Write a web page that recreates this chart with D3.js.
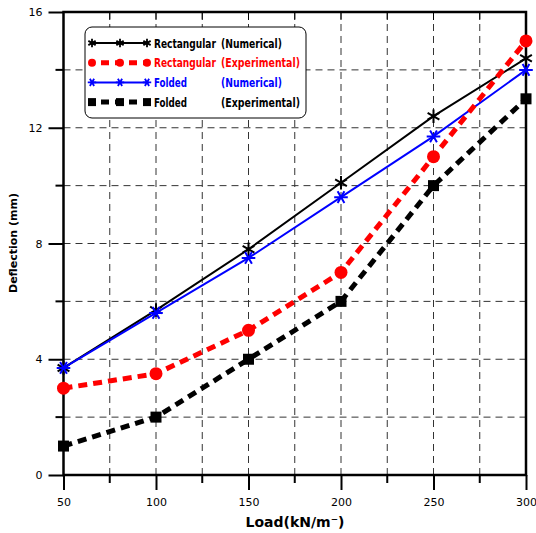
<!DOCTYPE html>
<html><head><meta charset="utf-8">
<script src="https://cdn.jsdelivr.net/npm/d3@7"></script>
<style>body{margin:0;background:#fff}</style>
</head><body>
<svg id="c" width="536" height="533"></svg>
<script>
const loads = [50, 100, 150, 200, 250, 300];
const rectNum = [3.7, 5.7, 7.8, 10.1, 12.4, 14.4];
const rectExp = [3, 3.5, 5, 7, 11, 15];
const foldNum = [3.7, 5.6, 7.5, 9.6, 11.7, 14.0];
const foldExp = [1, 2, 4, 6, 10, 13];
const xTicks = [50, 100, 150, 200, 250, 300];
const yTicks = [0, 4, 8, 12, 16];
const xLabel = "Load(kN/m\u207B)";
const yLabel = "Deflection (mm)";
const seriesNames = ["Rectangular", "Rectangular", "Folded", "Folded"];
const seriesTypes = ["(Numerical)", "(Experimental)", "(Numerical)", "(Experimental)"];

const svg = d3.select("#c");
const x = d3.scaleLinear().domain([50, 300]).range([63.5, 526]);
const y = d3.scaleLinear().domain([0, 16]).range([475, 12]);
const font = "'DejaVu Sans', Verdana, sans-serif";

// grid
const g = svg.append("g");
g.selectAll(".vg").data(d3.range(75, 300, 25)).enter().append("line")
  .attr("x1", d => x(d)).attr("x2", d => x(d)).attr("y1", y(0)).attr("y2", y(16))
  .attr("stroke", "#333").attr("stroke-width", 1).attr("stroke-dasharray", "7,5");
g.selectAll(".hg").data(d3.range(2, 16, 2)).enter().append("line")
  .attr("x1", x(50)).attr("x2", x(300)).attr("y1", d => y(d)).attr("y2", d => y(d))
  .attr("stroke", "#333").attr("stroke-width", 1).attr("stroke-dasharray", "7,5");

// axes
const xAxis = d3.axisBottom(x).tickValues(xTicks).tickSize(15).tickFormat(d3.format("d"));
const xa = svg.append("g").attr("transform", `translate(0,${y(0)})`).call(xAxis);
xa.select(".domain").remove();
xa.selectAll(".tick line").attr("stroke-width", 2);
xa.selectAll("text").attr("font-family", font).attr("font-size", 11).attr("dy", "1.2em");
svg.append("g").selectAll("line").data(d3.range(75, 300, 50)).enter().append("line")
  .attr("x1", d => x(d)).attr("x2", d => x(d)).attr("y1", y(0)).attr("y2", y(0) + 8)
  .attr("stroke", "#000").attr("stroke-width", 2);
// top ticks inward
svg.append("g").selectAll("line").data(d3.range(75, 300, 25)).enter().append("line")
  .attr("x1", d => x(d)).attr("x2", d => x(d)).attr("y1", y(16)).attr("y2", y(16) + 8)
  .attr("stroke", "#000").attr("stroke-width", 1);

const yAxis = d3.axisLeft(y).tickValues(yTicks).tickSize(15).tickPadding(6);
const ya = svg.append("g").attr("transform", `translate(${x(50)},0)`).call(yAxis);
ya.select(".domain").remove();
ya.selectAll(".tick line").attr("stroke-width", 2);
ya.selectAll("text").attr("font-family", font).attr("font-size", 11);
svg.append("g").selectAll("line").data(d3.range(2, 16, 4)).enter().append("line")
  .attr("x1", x(50) - 8).attr("x2", x(50)).attr("y1", d => y(d)).attr("y2", d => y(d))
  .attr("stroke", "#000").attr("stroke-width", 2);

// frame
svg.append("rect").attr("x", x(50)).attr("y", y(16)).attr("width", x(300) - x(50)).attr("height", y(0) - y(16))
  .attr("fill", "none").attr("stroke", "#000").attr("stroke-width", 2.5);

// series
const line = d3.line().x((d, i) => x(loads[i])).y(d => y(d));
function drawSeries(data, color, dash, width, marker) {
  svg.append("path").datum(data).attr("d", line).attr("fill", "none")
    .attr("stroke", color).attr("stroke-width", width).attr("stroke-dasharray", dash);
  const m = svg.append("g");
  data.forEach((v, i) => {
    const mg = m.append("g").attr("transform", `translate(${x(loads[i])},${y(v)})`);
    marker(mg, color);
  });
}
const mkStar = (rot) => (gg, col) => gg.append("path").attr("d", d3.symbol(d3.symbolAsterisk, 130)())
  .attr("transform", `rotate(${rot})`).attr("fill", "none").attr("stroke", col).attr("stroke-width", 2);
const mkCircle = (gg, col) => gg.append("circle").attr("r", 6.5).attr("fill", col);
const mkSquare = (gg, col) => gg.append("rect").attr("x", -5.5).attr("y", -5.5).attr("width", 11).attr("height", 11).attr("fill", col);

drawSeries(rectNum, "#000", null, 2, mkStar(0));
drawSeries(foldNum, "#0000ff", null, 2, mkStar(90));
drawSeries(rectExp, "#ff0000", "9,6", 5, mkCircle);
drawSeries(foldExp, "#000", "9,6", 5, mkSquare);

// legend
const lg = svg.append("g");
lg.append("rect").attr("x", 85).attr("y", 27).attr("width", 221).attr("height", 91).attr("rx", 7)
  .attr("fill", "#fff").attr("stroke", "#000").attr("stroke-width", 1);
const legItems = [
  {c: "#000", dash: null, w: 2, m: "star", tc: "#000"},
  {c: "#ff0000", dash: "9,6", w: 5, m: "circle", tc: "#ff0000"},
  {c: "#0000ff", dash: null, w: 2, m: "star", tc: "#0000ff"},
  {c: "#000", dash: "9,6", w: 5, m: "square", tc: "#000"}
];
const nameW = [62, 62, 33, 33];
const typeW = [61, 79, 61, 79];
const lfont = "'DejaVu Sans Condensed', 'DejaVu Sans', sans-serif";
function fitText(tx, ty, str, col, w) {
  const t = lg.append("text").attr("x", 0).attr("y", 0).attr("fill", col)
    .attr("font-family", lfont).attr("font-weight", "bold").attr("font-size", 12.5).text(str);
  const nat = t.node().getComputedTextLength();
  t.attr("transform", `translate(${tx},${ty}) scale(${w / nat},1)`);
}
legItems.forEach((it, i) => {
  const yy = 43 + i * 19.7;
  lg.append("line").attr("x1", 92).attr("x2", 148).attr("y1", yy).attr("y2", yy)
    .attr("stroke", it.c).attr("stroke-width", it.w).attr("stroke-dasharray", it.dash ? "8,6" : null)
    .attr("stroke-dashoffset", it.dash ? 5 : null);
  [92, 120, 147].forEach(px => {
    const mg = lg.append("g").attr("transform", `translate(${px},${yy})`);
    if (it.m === "circle") mg.append("circle").attr("r", 4).attr("fill", it.c);
    else if (it.m === "square") mg.append("rect").attr("x", -4).attr("y", -4).attr("width", 8).attr("height", 8).attr("fill", it.c);
    else mg.append("path").attr("d", d3.symbol(d3.symbolAsterisk, 50)()).attr("transform", `rotate(${i === 2 ? 90 : 0})`)
      .attr("fill", "none").attr("stroke", it.c).attr("stroke-width", 1.8);
  });
  fitText(154, yy + 4.5, seriesNames[i], it.tc, nameW[i]);
  fitText(221, yy + 4.5, seriesTypes[i], it.tc, typeW[i]);
});

// axis labels
svg.append("text").attr("x", 295).attr("y", 527).attr("text-anchor", "middle")
  .attr("font-family", "Verdana, 'DejaVu Sans', sans-serif").attr("font-weight", "bold").attr("font-size", 14)
  .text(xLabel);
svg.append("text").attr("transform", `translate(17,243) rotate(-90)`).attr("text-anchor", "middle")
  .attr("font-family", "'DejaVu Sans', sans-serif").attr("font-weight", "bold").attr("font-size", 11)
  .text(yLabel);
</script>
</body></html>
